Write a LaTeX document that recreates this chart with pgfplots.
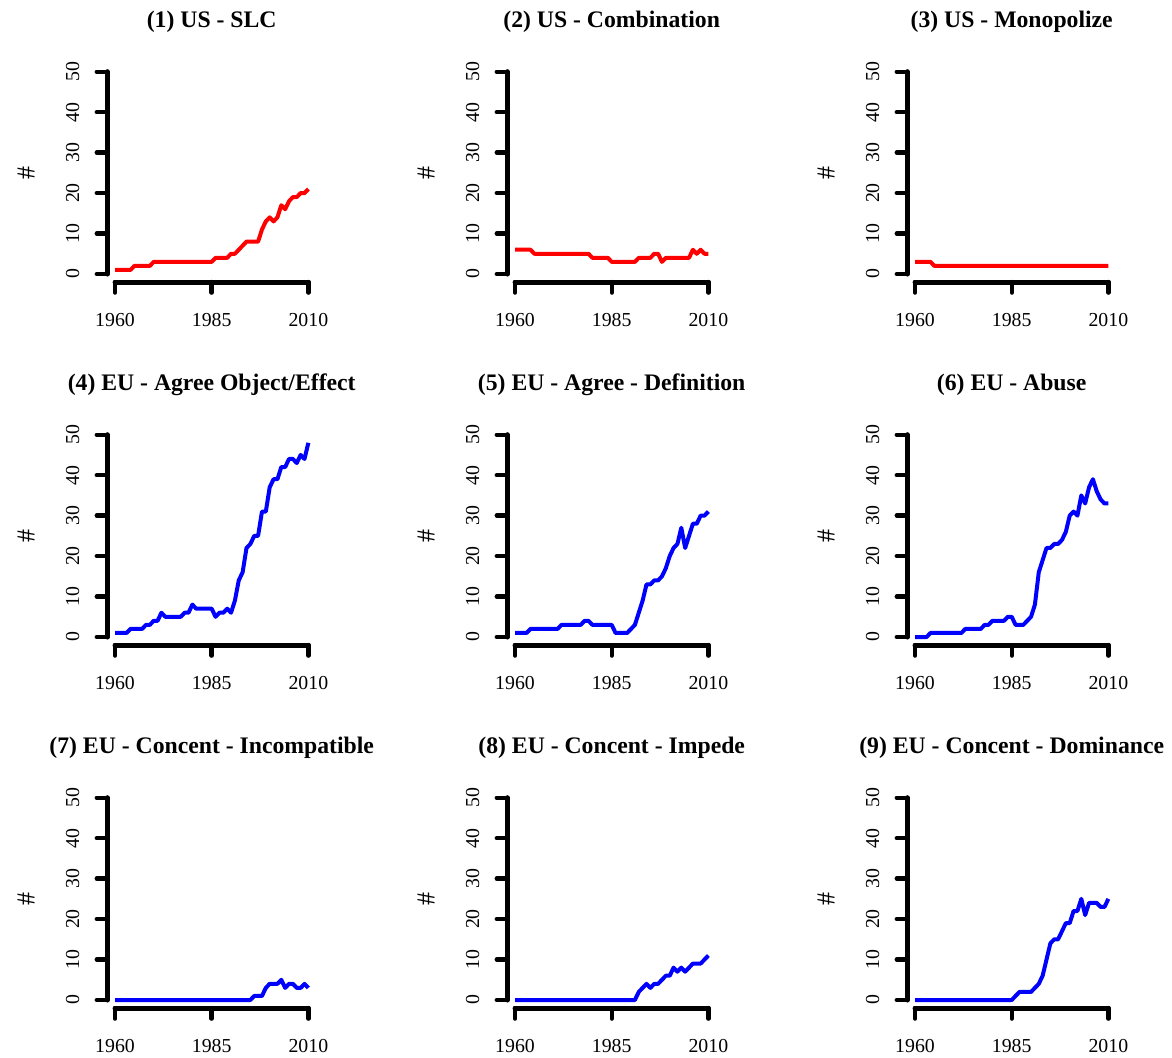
\documentclass[border=0pt]{standalone}
\usepackage{fontspec}
\setmainfont{Liberation Serif}
\usepackage{pgfplots}
\usepackage{pgfplotstable}
\pgfplotsset{compat=1.18}

\pgfplotstableread{
year s1 s2 s3 s4 s5 s6 s7 s8 s9
1960 1 6 3 1 1 0 0 0 0
1961 1 6 3 1 1 0 0 0 0
1962 1 6 3 1 1 0 0 0 0
1963 1 6 3 1 1 0 0 0 0
1964 1 6 3 2 2 1 0 0 0
1965 2 5 2 2 2 1 0 0 0
1966 2 5 2 2 2 1 0 0 0
1967 2 5 2 2 2 1 0 0 0
1968 2 5 2 3 2 1 0 0 0
1969 2 5 2 3 2 1 0 0 0
1970 3 5 2 4 2 1 0 0 0
1971 3 5 2 4 2 1 0 0 0
1972 3 5 2 6 3 1 0 0 0
1973 3 5 2 5 3 2 0 0 0
1974 3 5 2 5 3 2 0 0 0
1975 3 5 2 5 3 2 0 0 0
1976 3 5 2 5 3 2 0 0 0
1977 3 5 2 5 3 2 0 0 0
1978 3 5 2 6 4 3 0 0 0
1979 3 5 2 6 4 3 0 0 0
1980 3 4 2 8 3 4 0 0 0
1981 3 4 2 7 3 4 0 0 0
1982 3 4 2 7 3 4 0 0 0
1983 3 4 2 7 3 4 0 0 0
1984 3 4 2 7 3 5 0 0 0
1985 3 3 2 7 3 5 0 0 0
1986 4 3 2 5 1 3 0 0 1
1987 4 3 2 6 1 3 0 0 2
1988 4 3 2 6 1 3 0 0 2
1989 4 3 2 7 1 4 0 0 2
1990 5 3 2 6 2 5 0 0 2
1991 5 3 2 9 3 8 0 0 3
1992 6 4 2 14 6 16 0 2 4
1993 7 4 2 16 9 19 0 3 6
1994 8 4 2 22 13 22 0 4 10
1995 8 4 2 23 13 22 0 3 14
1996 8 5 2 25 14 23 1 4 15
1997 8 5 2 25 14 23 1 4 15
1998 11 3 2 31 15 24 1 5 17
1999 13 4 2 31 17 26 3 6 19
2000 14 4 2 37 20 30 4 6 19
2001 13 4 2 39 22 31 4 8 22
2002 14 4 2 39 23 30 4 7 22
2003 17 4 2 42 27 35 5 8 25
2004 16 4 2 42 22 33 3 7 21
2005 18 4 2 44 25 37 4 8 24
2006 19 6 2 44 28 39 4 9 24
2007 19 5 2 43 28 36 3 9 24
2008 20 6 2 45 30 34 3 9 23
2009 20 5 2 44 30 33 4 10 23
2010 21 5 2 48 31 33 3 11 25
}\datatable

\newcommand{\tickfont}{\fontsize{9.9}{11}\selectfont}
\newcommand{\labfont}{\fontsize{13}{15}\selectfont}
\newcommand{\titlefont}{\bfseries\fontsize{11.85}{14}\selectfont}

\pgfplotsset{
  rpanel/.style={
    scale only axis,
    width=104.4pt, height=109.25pt,
    xmin=1958, xmax=2012, ymin=-2, ymax=52,
    clip=false,
    anchor=south west,
    axis x line*=bottom, axis y line*=left,
    axis line style={draw=none},
    tick align=outside,
    major tick length=5.25pt,
    tick style={black, line width=2.2pt, line cap=round},
    xtick={1960,1985,2010}, ytick={0,10,20,30,40,50},
    minor tick num=0,
    /pgf/number format/assume math mode=true,
    /pgf/number format/1000 sep={},
    scaled ticks=false,
    xticklabel style={font=\tickfont, anchor=north, inner sep=0pt},
    yticklabel style={font=\tickfont, rotate=90, anchor=south, inner sep=0pt},
    xticklabel shift=10.25pt,
    yticklabel shift=8.6pt,
    title style={font=\titlefont, anchor=base, at={(0.5,1)}, yshift=12.3pt, inner sep=0pt},
    every axis y label/.style={at={(axis description cs:-0.389,0.5)}, rotate=90, anchor=center, font=\labfont, inner sep=0pt},
    ylabel={\#},
  }
}

\newcommand{\panel}[5]{%
  \begin{axis}[rpanel, at={(#1,#2)}, title={#3}]
    \addplot[#5, line width=2pt, line join=round, mark=none] table[x=year, y=#4] {\datatable};
    \draw[black, line width=2.5pt, line cap=round] (axis cs:1958,0) -- (axis cs:1958,50);
    \draw[black, line width=2.5pt, line cap=round] (axis cs:1960,-2) -- (axis cs:2010,-2);
  \end{axis}}

\begin{document}
\begin{tikzpicture}
\useasboundingbox (0,0) rectangle (586pt,528.5pt);
\panel{53.65pt}{387.45pt}{(1) US - SLC}{s1}{red}
\panel{253.65pt}{387.45pt}{(2) US - Combination}{s2}{red}
\panel{453.65pt}{387.45pt}{(3) US - Monopolize}{s3}{red}
\panel{53.65pt}{205.95pt}{(4) EU - Agree Object/Effect}{s4}{blue}
\panel{253.65pt}{205.95pt}{(5) EU - Agree - Definition}{s5}{blue}
\panel{453.65pt}{205.95pt}{(6) EU - Abuse}{s6}{blue}
\panel{53.65pt}{24.45pt}{(7) EU - Concent - Incompatible}{s7}{blue}
\panel{253.65pt}{24.45pt}{(8) EU - Concent - Impede}{s8}{blue}
\panel{453.65pt}{24.45pt}{(9) EU - Concent - Dominance}{s9}{blue}
\end{tikzpicture}
\end{document}
